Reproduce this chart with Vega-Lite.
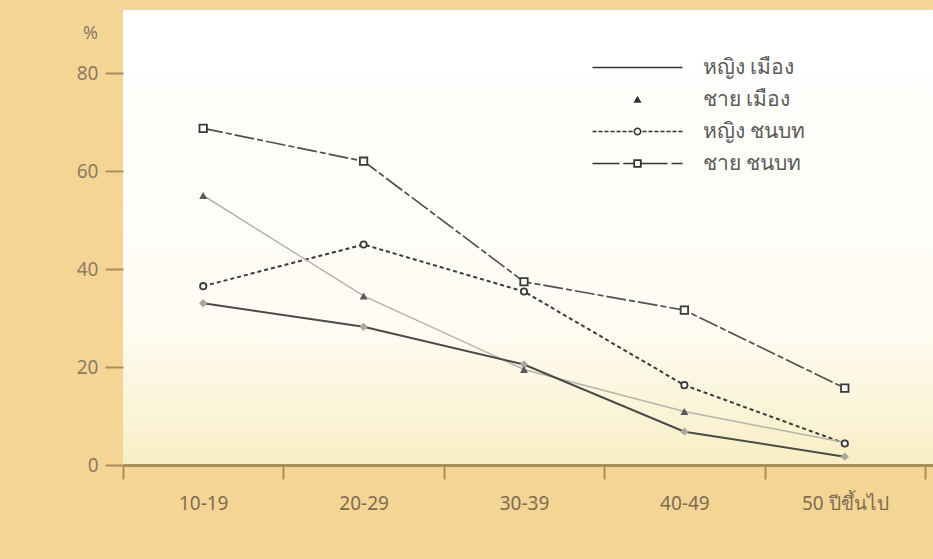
{
  "$schema": "https://vega.github.io/schema/vega-lite/v6.json",
  "width": 810,
  "height": 455,
  "autosize": {"type": "none"},
  "padding": {"left": 123, "top": 10, "right": 0, "bottom": 94},
  "background": "#f5d594",
  "config": {
    "font": "Noto Sans, DejaVu Sans, sans-serif",
    "view": {
      "stroke": null,
      "fill": {"gradient": "linear", "x1": 0, "y1": 0, "x2": 0, "y2": 1,
        "stops": [{"offset": 0, "color": "#ffffff"}, {"offset": 0.7, "color": "#fefcf3"}, {"offset": 1, "color": "#f8eec4"}]}
    }
  },
  "data": {
    "values": [
      {"series": "หญิง เมือง", "age": "10-19", "value": 33},
      {"series": "หญิง เมือง", "age": "20-29", "value": 28.2},
      {"series": "หญิง เมือง", "age": "30-39", "value": 20.5},
      {"series": "หญิง เมือง", "age": "40-49", "value": 6.8},
      {"series": "หญิง เมือง", "age": "50 ปีขึ้นไป", "value": 1.7},
      {"series": "ชาย เมือง", "age": "10-19", "value": 55},
      {"series": "ชาย เมือง", "age": "20-29", "value": 34.5},
      {"series": "ชาย เมือง", "age": "30-39", "value": 19.5},
      {"series": "ชาย เมือง", "age": "40-49", "value": 10.9},
      {"series": "ชาย เมือง", "age": "50 ปีขึ้นไป", "value": 4.6},
      {"series": "หญิง ชนบท", "age": "10-19", "value": 36.5},
      {"series": "หญิง ชนบท", "age": "20-29", "value": 45},
      {"series": "หญิง ชนบท", "age": "30-39", "value": 35.4},
      {"series": "หญิง ชนบท", "age": "40-49", "value": 16.3},
      {"series": "หญิง ชนบท", "age": "50 ปีขึ้นไป", "value": 4.4},
      {"series": "ชาย ชนบท", "age": "10-19", "value": 68.7},
      {"series": "ชาย ชนบท", "age": "20-29", "value": 62},
      {"series": "ชาย ชนบท", "age": "30-39", "value": 37.4},
      {"series": "ชาย ชนบท", "age": "40-49", "value": 31.6},
      {"series": "ชาย ชนบท", "age": "50 ปีขึ้นไป", "value": 15.7}
    ]
  },
  "encoding": {
    "x": {
      "field": "age", "type": "ordinal",
      "sort": ["10-19", "20-29", "30-39", "40-49", "50 ปีขึ้นไป"],
      "scale": {"type": "band", "paddingInner": 0, "paddingOuter": 0.025, "align": 0},
      "axis": {
        "title": null, "labelAngle": 0, "tickBand": "extent",
        "domainColor": "#a88d5e", "domainWidth": 3,
        "tickColor": "#a88d5e", "tickWidth": 2, "tickSize": 14,
        "labelPadding": 15, "labelFontSize": 19, "labelColor": "#7d6c55"
      }
    },
    "y": {
      "field": "value", "type": "quantitative",
      "scale": {"domain": [0, 92.86], "nice": false, "zero": true},
      "axis": {
        "values": [0, 20, 40, 60, 80], "domain": false, "grid": false,
        "tickSize": 18, "tickWidth": 2, "tickColor": "#a88d5e",
        "labelColor": "#8c7b64", "labelFontSize": 19, "labelPadding": 7,
        "title": "%", "titleAngle": 0, "titleX": -33, "titleY": 23,
        "titleAlign": "center", "titleBaseline": "middle",
        "titleFontWeight": "normal", "titleFontSize": 18, "titleColor": "#8c7b64"
      }
    }
  },
  "layer": [
    {
      "data": {"values": [{}]},
      "mark": {"type": "rule", "color": "#a88d5e", "strokeWidth": 3},
      "encoding": {
        "x": {"datum": "10-19", "bandPosition": 0},
        "y": {"datum": 0},
        "y2": {"datum": 80}
      }
    },
    {
      "transform": [{"filter": "datum.series === 'ชาย ชนบท'"}],
      "mark": {"type": "line", "color": "#505050", "strokeWidth": 1.7, "strokeDash": [20, 3, 6, 3]}
    },
    {
      "transform": [{"filter": "datum.series === 'หญิง ชนบท'"}],
      "mark": {"type": "line", "color": "#3a3a3a", "strokeWidth": 2, "strokeDash": [4, 3]}
    },
    {
      "transform": [{"filter": "datum.series === 'ชาย เมือง'"}],
      "mark": {"type": "line", "color": "#b5b4ac", "strokeWidth": 1.5}
    },
    {
      "transform": [{"filter": "datum.series === 'หญิง เมือง'"}],
      "mark": {"type": "line", "color": "#4a4a48", "strokeWidth": 2}
    },
    {
      "transform": [{"filter": "datum.series === 'หญิง เมือง'"}],
      "mark": {"type": "point", "shape": "diamond", "filled": true, "color": "#a9a8a0", "size": 70, "opacity": 1}
    },
    {
      "transform": [{"filter": "datum.series === 'ชาย เมือง'"}],
      "mark": {"type": "point", "shape": "triangle-up", "filled": true, "color": "#5a5a58", "size": 65, "opacity": 1}
    },
    {
      "transform": [{"filter": "datum.series === 'หญิง ชนบท'"}],
      "mark": {"type": "point", "shape": "circle", "filled": true, "fill": "#ffffff", "stroke": "#3a3a3a", "strokeWidth": 1.8, "size": 40, "opacity": 1}
    },
    {
      "transform": [{"filter": "datum.series === 'ชาย ชนบท'"}],
      "mark": {"type": "point", "shape": "square", "filled": true, "fill": "#ffffff", "stroke": "#3a3a3a", "strokeWidth": 1.8, "size": 55, "opacity": 1}
    },
    {
      "mark": {"type": "point", "fill": "#333333", "stroke": "#333333", "strokeWidth": 0.3, "opacity": 0},
      "encoding": {
        "shape": {
          "field": "series", "type": "nominal",
          "scale": {
            "domain": ["หญิง เมือง", "ชาย เมือง", "หญิง ชนบท", "ชาย ชนบท"],
            "range": [
              "M-3,-0.055L3,-0.055L3,0.055L-3,0.055Z",
              "M0,-0.25L0.27,0.22L-0.27,0.22Z",
              "M-3,-0.05L-2.73,-0.05L-2.73,0.05L-3,0.05ZM-2.6,-0.05L-2.33,-0.05L-2.33,0.05L-2.6,0.05ZM-2.2,-0.05L-1.93,-0.05L-1.93,0.05L-2.2,0.05ZM-1.8,-0.05L-1.53,-0.05L-1.53,0.05L-1.8,0.05ZM-1.4,-0.05L-1.13,-0.05L-1.13,0.05L-1.4,0.05ZM-1,-0.05L-0.73,-0.05L-0.73,0.05L-1,0.05ZM-0.6,-0.05L-0.33,-0.05L-0.33,0.05L-0.6,0.05ZM0.33,-0.05L0.6,-0.05L0.6,0.05L0.33,0.05ZM0.73,-0.05L1,-0.05L1,0.05L0.73,0.05ZM1.13,-0.05L1.4,-0.05L1.4,0.05L1.13,0.05ZM1.53,-0.05L1.8,-0.05L1.8,0.05L1.53,0.05ZM1.93,-0.05L2.2,-0.05L2.2,0.05L1.93,0.05ZM2.33,-0.05L2.6,-0.05L2.6,0.05L2.33,0.05ZM2.73,-0.05L3,-0.05L3,0.05L2.73,0.05ZM0.27,0A0.27,0.27 0 1,1 -0.27,0A0.27,0.27 0 1,1 0.27,0ZM0.16,0A0.16,0.16 0 1,0 -0.16,0A0.16,0.16 0 1,0 0.16,0Z",
              "M-3,-0.05L-1.2,-0.05L-1.2,0.05L-3,0.05ZM-0.95,-0.05L-0.28,-0.05L-0.28,0.05L-0.95,0.05ZM0.28,-0.05L2,-0.05L2,0.05L0.28,0.05ZM2.27,-0.05L3,-0.05L3,0.05L2.27,0.05ZM-0.28,-0.28L0.28,-0.28L0.28,0.28L-0.28,0.28ZM-0.16,-0.16L-0.16,0.16L0.16,0.16L0.16,-0.16Z"
            ]
          },
          "legend": {
            "title": null, "orient": "none", "legendX": 454, "legendY": 42,
            "padding": 0, "symbolSize": 900, "symbolOffset": 45, "labelOffset": 50,
            "symbolOpacity": 1, "symbolFillColor": "#333333", "symbolStrokeColor": "#333333",
            "symbolStrokeWidth": 0.3, "rowPadding": 6,
            "labelFontSize": 21, "labelColor": "#5a5a5a", "labelLimit": 300,
            "encode": {
              "symbols": {
                "fill": {"value": "#333333"},
                "opacity": {"value": 1}
              }
            }
          }
        }
      }
    }
  ]
}
